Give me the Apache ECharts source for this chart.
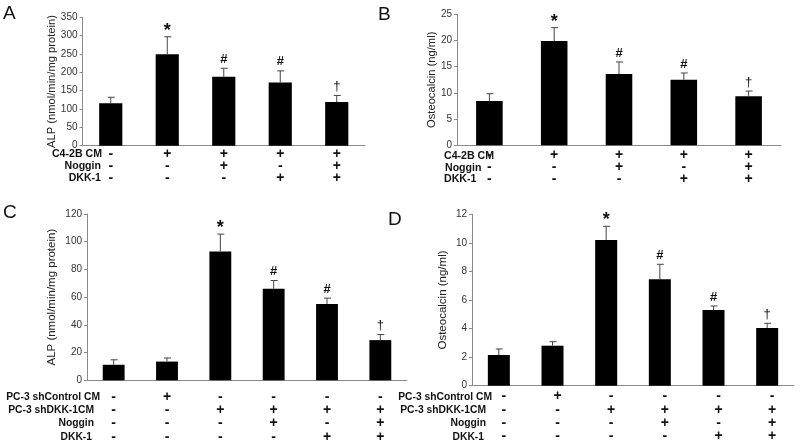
<!DOCTYPE html>
<html><head><meta charset="utf-8">
<script src="https://cdn.jsdelivr.net/npm/echarts@6/dist/echarts.min.js"></script>
<style>html,body{margin:0;padding:0;background:#fff}#c{width:800px;height:446px}</style>
</head><body><div id="c"></div>
<script>
// ---- Panel A: ALP, C4-2B CM ----
const A_mean = [116, 249, 188, 172, 119];
const A_sd   = [16, 48, 23, 32, 18];
const A_sig  = ['', '*', '#', '#', '†'];
const A_rowNames = ['C4-2B CM', 'Noggin', 'DKK-1'];
const A_C42B   = ['-', '+', '+', '+', '+'];
const A_Noggin = ['-', '-', '+', '-', '+'];
const A_DKK1   = ['-', '-', '-', '+', '+'];
const A_ticks = {min: 0, max: 350, interval: 50};

// ---- Panel B: Osteocalcin, C4-2B CM ----
const B_mean = [8.45, 19.9, 13.6, 12.5, 9.35];
const B_sd   = [1.4, 2.55, 2.3, 1.3, 1.0];
const B_sig  = ['', '*', '#', '#', '†'];
const B_ticks = {min: 0, max: 25, interval: 5};

// ---- Panel C: ALP, PC-3 ----
const C_mean = [11.2, 13.5, 93, 66, 55, 29];
const C_sd   = [3.6, 2.6, 12.5, 6, 4.3, 4];
const C_sig  = ['', '', '*', '#', '#', '†'];
const C_rowNames = ['PC-3 shControl CM', 'PC-3 shDKK-1CM', 'Noggin', 'DKK-1'];
const C_shCtrl  = ['-', '+', '-', '-', '-', '-'];
const C_shDKK   = ['-', '-', '+', '+', '+', '+'];
const C_Noggin  = ['-', '-', '-', '+', '-', '+'];
const C_DKK1    = ['-', '-', '-', '-', '+', '+'];
const C_ticks = {min: 0, max: 120, interval: 20};

// ---- Panel D: Osteocalcin, PC-3 ----
const D_mean = [2.15, 2.8, 10.2, 7.45, 5.3, 4.04];
const D_sd   = [0.42, 0.28, 0.96, 1.05, 0.28, 0.33];
const D_sig  = ['', '', '*', '#', '#', '†'];
const D_ticks = {min: 0, max: 12, interval: 2};

const FONT = '"Liberation Sans", Arial, sans-serif';

function cats(rows) {
  return rows[0].map((_, i) => rows.map(r => r[i]).join('\n'));
}

const grids = [
  {left: 82.5, right: 435, top: 17.3, bottom: 300.3},
  {left: 457, right: 19, top: 14.3, bottom: 300.7},
  {left: 87, right: 393, top: 214, bottom: 65.7},
  {left: 472, right: 6, top: 214.3, bottom: 60.3}
];

const panels = [
  {cat: cats([A_C42B, A_Noggin, A_DKK1]), mean: A_mean, sd: A_sd, sig: A_sig, ticks: A_ticks,
   name: 'ALP (nmol/min/mg protein)', nameGap: 20, nameSize: 11.2, lh: 12, margin: 2, pad: 0},
  {cat: cats([A_C42B, A_Noggin, A_DKK1]), mean: B_mean, sd: B_sd, sig: B_sig, ticks: B_ticks,
   name: 'Osteocalcin (ng/ml)', nameGap: 18, nameSize: 11.2, lh: 11.8, margin: 4, pad: 0},
  {cat: cats([C_shCtrl, C_shDKK, C_Noggin, C_DKK1]), mean: C_mean, sd: C_sd, sig: C_sig, ticks: C_ticks,
   name: 'ALP (nmol/min/mg protein)', nameGap: 29, nameSize: 11.5, lh: 13.3, margin: 10, pad: 0},
  {cat: cats([C_shCtrl, C_shDKK, C_Noggin, C_DKK1]), mean: D_mean, sd: D_sd, sig: D_sig, ticks: D_ticks,
   name: 'Osteocalcin (ng/ml)', nameGap: 23, nameSize: 11.5, lh: 13.3, margin: 4, pad: 10}
];

const xAxis = [], yAxis = [], series = [];
panels.forEach((p, i) => {
  xAxis.push({
    type: 'category', gridIndex: i, data: p.cat,
    axisLine: {lineStyle: {color: '#8a8a8a', width: 1}},
    axisTick: {show: false},
    axisLabel: {interval: 0, margin: p.margin, fontFamily: FONT, fontWeight: 'bold', fontSize: 14,
      lineHeight: p.lh, color: '#111', padding: [0, 0, 0, p.pad]}
  });
  yAxis.push({
    type: 'value', gridIndex: i, min: p.ticks.min, max: p.ticks.max, interval: p.ticks.interval,
    name: p.name, nameLocation: 'middle', nameGap: p.nameGap,
    nameTextStyle: {fontFamily: FONT, fontSize: p.nameSize, color: '#222'},
    axisLine: {show: true, lineStyle: {color: '#8a8a8a', width: 1}},
    axisTick: {show: true, length: 3, lineStyle: {color: '#8a8a8a'}},
    axisLabel: {fontFamily: FONT, fontSize: 10, color: '#333', margin: 5},
    splitLine: {show: false}
  });
  series.push({
    type: 'bar', xAxisIndex: i, yAxisIndex: i, data: p.mean, barWidth: '41%',
    itemStyle: {color: '#000'}, silent: true, z: 2
  });
  series.push({
    type: 'custom', xAxisIndex: i, yAxisIndex: i, z: 3, silent: true,
    data: p.mean.map((m, k) => [k, m, p.sd[k]]),
    renderItem: function (params, api) {
      const k = api.value(0), m = api.value(1), s = api.value(2);
      const p0 = api.coord([k, m]);
      const p1 = api.coord([k, m + s]);
      const mark = p.sig[params.dataIndex];
      const isStar = mark === '*';
      return {
        type: 'group',
        children: [
          {type: 'line', shape: {x1: p0[0], y1: p0[1], x2: p1[0], y2: p1[1]},
           style: {stroke: '#444', lineWidth: 1}},
          {type: 'line', shape: {x1: p1[0] - 3, y1: p1[1], x2: p1[0] + 4, y2: p1[1]},
           style: {stroke: '#444', lineWidth: 1}},
          {type: 'text', x: p1[0], y: p1[1] - (isStar ? 6 : 9),
           style: {text: mark, fontFamily: FONT, fontSize: isStar ? 18 : 13,
             fontWeight: mark === '†' ? 'normal' : 'bold',
             fill: '#111', align: 'center', verticalAlign: 'middle'}}
        ]
      };
    }
  });
});

function txt(x, y, s, opts) {
  return Object.assign({type: 'text', x: x, y: y,
    style: Object.assign({text: s, fontFamily: FONT, fontSize: 10.3, fontWeight: 'bold', fill: '#111',
      align: 'right', verticalAlign: 'middle'}, opts || {})});
}

const graphic = [
  txt(3, 14, 'A', {fontSize: 19, fontWeight: 'normal', align: 'left'}),
  txt(378, 15, 'B', {fontSize: 19, fontWeight: 'normal', align: 'left'}),
  txt(3, 213, 'C', {fontSize: 19, fontWeight: 'normal', align: 'left'}),
  txt(388, 220, 'D', {fontSize: 19, fontWeight: 'normal', align: 'left'}),
  // Table A
  txt(102, 154, A_rowNames[0], {fontSize: 10.6}), txt(101, 166, A_rowNames[1], {fontSize: 10.6}),
  txt(101, 178, A_rowNames[2], {fontSize: 10.6}),
  // Table B
  txt(444, 156, A_rowNames[0], {align: 'left', fontSize: 10.6}),
  txt(445, 168, A_rowNames[1], {align: 'left', fontSize: 10.6}),
  txt(444, 179.5, A_rowNames[2], {align: 'left', fontSize: 10.6}),
  // Table C
  txt(100, 397, C_rowNames[0]), txt(94, 410, C_rowNames[1]), txt(94, 423.5, C_rowNames[2]),
  txt(92, 437, C_rowNames[3]),
  // Table D
  txt(492, 397, C_rowNames[0]), txt(486, 410, C_rowNames[1]), txt(486, 423.5, C_rowNames[2]),
  txt(484, 437, C_rowNames[3])
];

const chart = echarts.init(document.getElementById('c'), null, {renderer: 'canvas'});
chart.setOption({
  animation: false, backgroundColor: '#fff',
  grid: grids, xAxis: xAxis, yAxis: yAxis, series: series, graphic: graphic
});
</script></body></html>
